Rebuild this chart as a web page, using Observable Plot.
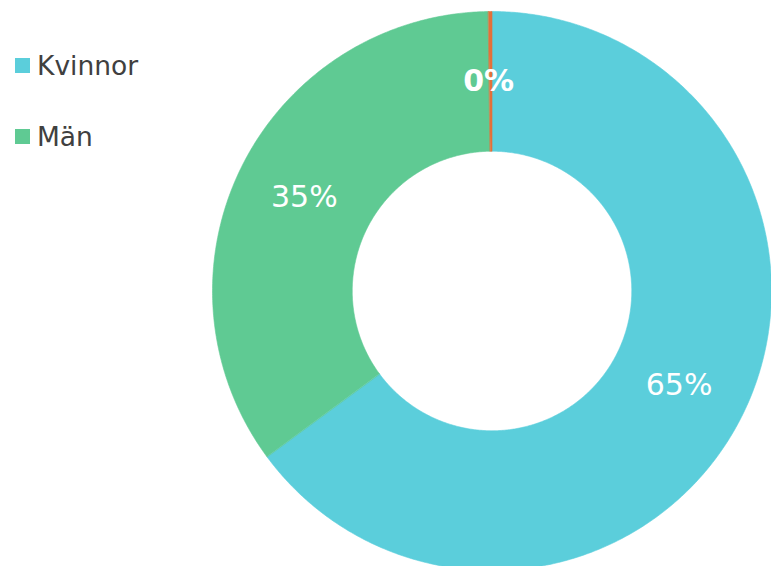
<!DOCTYPE html>
<html>
<head>
<meta charset="utf-8">
<script src="https://cdn.jsdelivr.net/npm/d3@7"></script>
<script src="https://cdn.jsdelivr.net/npm/@observablehq/plot@0.6"></script>
<style>
  html, body { margin: 0; padding: 0; background: #fff; }
  #wrap { position: relative; width: 771px; height: 566px; overflow: hidden; font-family: "DejaVu Sans", Verdana, sans-serif; }
  #legend { position: absolute; left: 15px; top: 47px; color: #404040; font-size: 26.5px; }
  .item { display: flex; align-items: center; height: 36px; margin-bottom: 35px; }
  .sw { width: 15px; height: 15px; margin-right: 7px; }
</style>
</head>
<body>
<div id="wrap"><div id="legend"></div></div>
<script>
// Data
const categories = ["Kvinnor", "Män", "Övrigt"];
const values = [64.9, 34.9, 0.2];
const colors = ["#5bcedb", "#5fca93", "#e4703a"];
const legendCategories = ["Kvinnor", "Män"];

const innerR = 0.5, outerR = 1.0;
const total = d3.sum(values);

// slices with start/end angles (clockwise from top)
let acc = 0;
const slices = categories.map((c, i) => {
  const a0 = acc / total * 2 * Math.PI;
  acc += values[i];
  const a1 = acc / total * 2 * Math.PI;
  return {key: c, value: values[i], pct: values[i] / total * 100, a0, a1, color: colors[i]};
});

function polygon(s) {
  const pts = [];
  const n = Math.max(2, Math.ceil((s.a1 - s.a0) / (Math.PI / 360)));
  for (let k = 0; k <= n; k++) {
    const a = s.a0 + (s.a1 - s.a0) * k / n;
    pts.push({x: outerR * Math.sin(a), y: outerR * Math.cos(a), key: s.key});
  }
  for (let k = n; k >= 0; k--) {
    const a = s.a0 + (s.a1 - s.a0) * k / n;
    pts.push({x: innerR * Math.sin(a), y: innerR * Math.cos(a), key: s.key});
  }
  return pts;
}

const labelR = (innerR + outerR) / 2;
const labels = slices.map(s => {
  const m = (s.a0 + s.a1) / 2;
  return {x: labelR * Math.sin(m), y: labelR * Math.cos(m), text: Math.round(s.pct) + "%", small: s.pct < 1};
});

const chart = Plot.plot({
  width: 771,
  height: 566,
  margin: 0,
  x: {domain: [-1, 1], range: [212, 771], axis: null},
  y: {domain: [-1, 1], range: [570, 11], axis: null},
  style: {fontFamily: "'DejaVu Sans', Verdana, sans-serif", background: "transparent", overflow: "visible"},
  marks: [
    ...slices.map(s => Plot.line(polygon(s), {x: "x", y: "y", fill: s.color, stroke: s.color, strokeWidth: 0.6, curve: "linear-closed"})),
    Plot.text(labels.filter(d => !d.small), {x: "x", y: "y", text: "text", fill: "white", fontSize: 30}),
    Plot.text(labels.filter(d => d.small), {x: "x", y: "y", text: "text", fill: "white", fontSize: 30, fontWeight: "bold", dx: -2})
  ]
});
chart.style.position = "absolute";
chart.style.left = "0";
chart.style.top = "0";
document.getElementById("wrap").prepend(chart);

const legend = d3.select("#legend");
legendCategories.forEach(c => {
  const i = categories.indexOf(c);
  const item = legend.append("div").attr("class", "item");
  item.append("div").attr("class", "sw").style("background", colors[i]);
  item.append("span").text(c);
});
</script>
</body>
</html>
